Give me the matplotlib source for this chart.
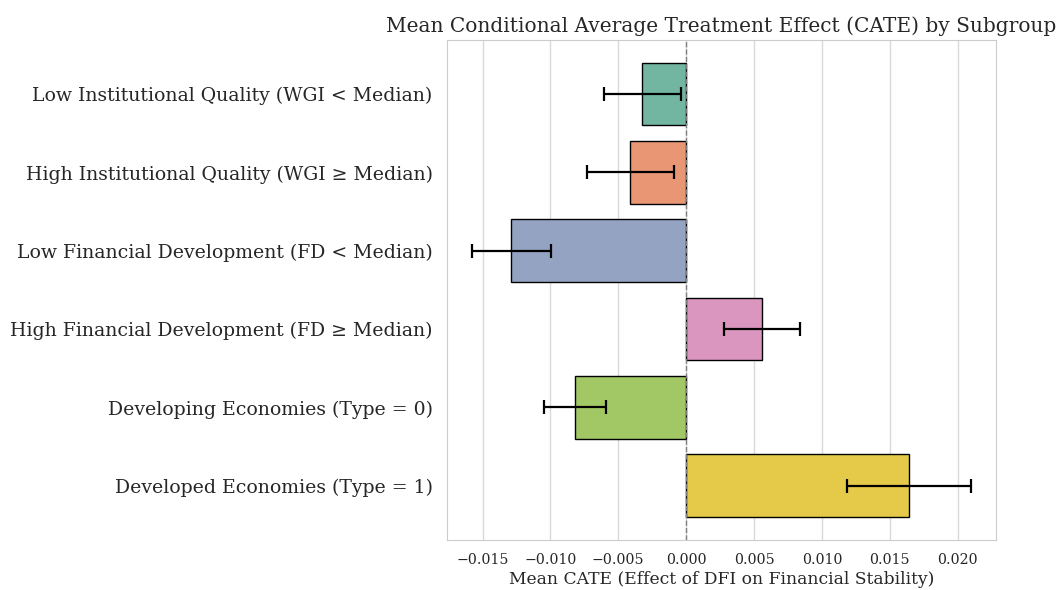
import numpy as np
import matplotlib
matplotlib.use("Agg")
import matplotlib.pyplot as plt
import seaborn as sns

# subgroup labels and estimates
groups = [
    "Low Institutional Quality (WGI < Median)",
    "High Institutional Quality (WGI \u2265 Median)",
    "Low Financial Development (FD < Median)",
    "High Financial Development (FD \u2265 Median)",
    "Developing Economies (Type = 0)",
    "Developed Economies (Type = 1)",
]
mean_cate = [-0.00324, -0.00412, -0.01287, 0.00559, -0.00816, 0.01640]
cate_err = [0.00283, 0.00320, 0.00290, 0.00283, 0.00228, 0.00456]

sns.set_style("whitegrid")
plt.rcParams['font.family'] = ['DejaVu Serif']

colors = sns.color_palette("Set2", len(groups), desat=0.75)

fig = plt.figure(figsize=(10.57, 5.9), dpi=100)
ax = fig.add_axes([0.423, 0.085, 0.519, 0.847])

ypos = np.arange(len(groups))
ax.barh(ypos, mean_cate, height=0.8, color=colors, edgecolor="black", linewidth=1.0)
ax.errorbar(mean_cate, ypos, xerr=cate_err, fmt="none", ecolor="black",
            elinewidth=1.6, capsize=5, capthick=1.6)
ax.axvline(0, color="gray", linestyle="--", linewidth=1)

ax.set_yticks(ypos)
ax.set_yticklabels(groups, fontsize=13.6)
ax.invert_yaxis()
ax.grid(axis="y", visible=False)
ax.grid(axis="x", color="#d9d9d9", linewidth=1)
ax.tick_params(axis="x", labelsize=10.2, pad=6)
ax.tick_params(axis="y", pad=7)
for sp in ax.spines.values():
    sp.set_color("#cccccc")

ax.set_xlabel("Mean CATE (Effect of DFI on Financial Stability)", fontsize=12.3, labelpad=3)
ax.set_title("Mean Conditional Average Treatment Effect (CATE) by Subgroup", fontsize=14.5)

fig.savefig("out.png", dpi=100)
